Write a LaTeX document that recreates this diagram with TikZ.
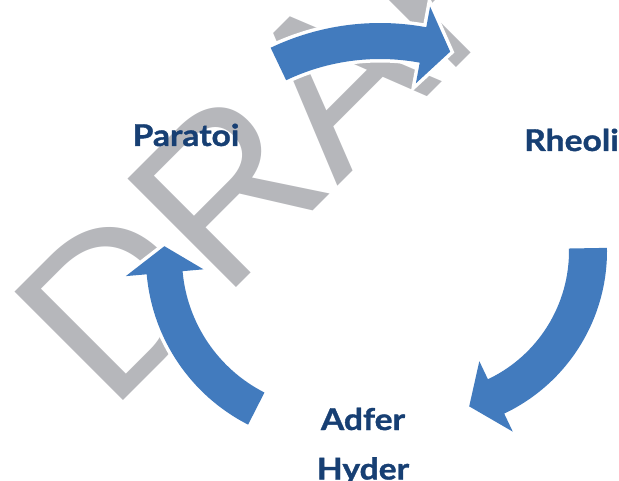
\documentclass[tikz,border=0pt]{standalone}
\usepackage{fontspec}
\usepackage{xcolor}
\definecolor{arrowblue}{HTML}{427BBE}
\definecolor{labelblue}{HTML}{173F73}
\definecolor{markgray}{HTML}{B6B7BB}
\newfontfamily\labelfont{Lato}[BoldFeatures={FakeBold=1.2, FakeStretch=1.12}]
\newfontfamily\markfont{Liberation Sans}
\usepackage{tikz}
\usetikzlibrary{positioning}

\tikzset{
	stage/.style={labelblue, inner sep=0pt, font=\labelfont\bfseries\fontsize{30}{49.5}\selectfont},
	watermark/.style={markgray, inner sep=0pt, font=\markfont\fontsize{223}{223}\selectfont},
	bluearrow/.style={fill=arrowblue, preaction={draw=white, line width=7pt}},
}

\begin{document}
\begin{tikzpicture}[x=1pt, y=1pt]

\useasboundingbox (0,0) rectangle (619,480);

\def \xhw{39} % half width of the head

% centre, radius, width, tail angle, head angle, tip angle
\newcommand{\xarrow}[6]{
	\pgfmathsetmacro{\xro}{#2 + #3/2}
	\pgfmathsetmacro{\xri}{#2 - #3/2}
	\pgfmathsetmacro{\xho}{#2 + \xhw}
	\pgfmathsetmacro{\xhi}{#2 - \xhw}
	\path[bluearrow, shift={(#1)}] (#4:\xro) arc[start angle=#4, end angle=#5, radius=\xro]
		-- (#5:\xho) -- (#6:#2) -- (#5:\xhi) -- (#5:\xri)
		arc[start angle=#5, end angle=#4, radius=\xri] -- cycle;
}

\node[watermark, anchor=base west, rotate=45] (draft) at (110,66) {DRAFT}; % watermark

\coordinate (left centre)  at (333,222);
\coordinate (top centre)   at (380,203);
\coordinate (right centre) at (427,229);

\xarrow{left centre}{169}{36}{243}{185}{176}   % back to Paratoi
\xarrow{top centre}{236}{36}{115.5}{79.5}{72.7} % Paratoi to Rheoli
\xarrow{right centre}{161}{38}{1}{-64.6}{-74.8} % Rheoli to Adfer Hyder

\node[stage, anchor=base] (paratoi) at (186,334) {Paratoi};
\node[stage, anchor=base] (rheoli)  at (571.5,329) {Rheoli};
\node[stage, anchor=base, align=center] (adfer) at (363,0.5) {Adfer\\Hyder}; % base is the last line

\end{tikzpicture}
\end{document}
